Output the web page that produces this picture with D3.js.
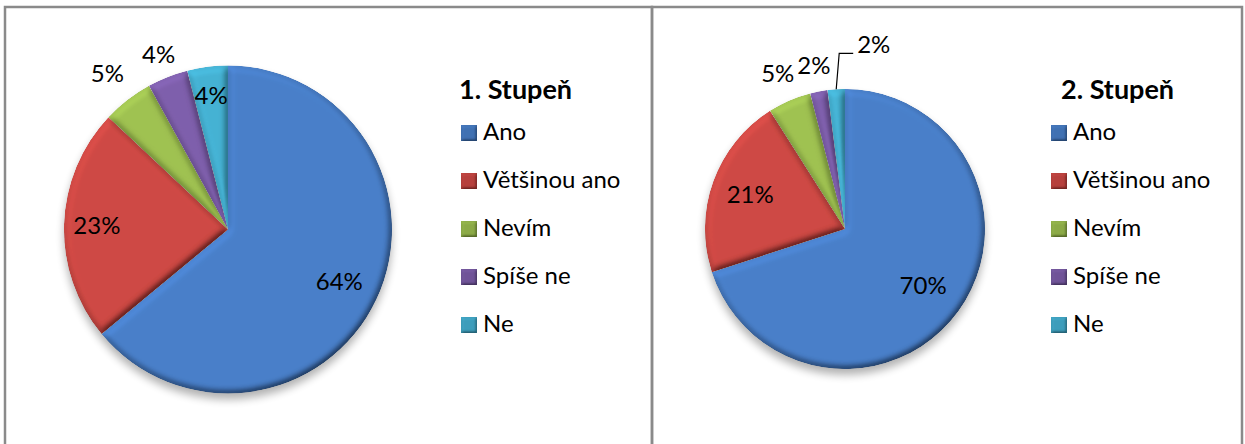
<!DOCTYPE html>
<html lang="cs">
<head>
<meta charset="UTF-8">
<title>Stupeň – koláčové grafy</title>
<script src="https://d3js.org/d3.v7.min.js"></script>
<style>
    body { margin: 0; background: #fff; }
    svg { display: block; }
    .lbl { font-family: Lato, "Noto Sans", sans-serif; font-size: 24px; fill: #000; }
    .leg { font-family: Lato, "Noto Sans", sans-serif; font-size: 24px; fill: #000; }
    .ttl { font-family: Lato, "Noto Sans", sans-serif; font-size: 27px; font-weight: bold; fill: #000; }
</style>
</head>
<body>
<script>
    // data
    const categories = ["Ano", "Většinou ano", "Nevím", "Spíše ne", "Ne"];
    const values1 = [64, 23, 5, 4, 4];
    const values2 = [70, 21, 5, 2, 2];
    const titles = ["1. Stupeň", "2. Stupeň"];
    const colors = ["#4a81cc", "#d14a45", "#a1c452", "#8060ae", "#46b4d6"];

    const width = 1245, height = 444;

    // layout of both panels (label radius factors are relative to pie radius)
    const panels = [
        { x: 5, w: 647, cx: 228, cy: 229.5, r: 164, values: values1, title: titles[0],
          titleX: 459, legX: 461, labelR: [0.75, 0.8, 1.2, 1.15, 0.82], leader: -1 },
        { x: 652, w: 590, cx: 845, cy: 229, r: 140, values: values2, title: titles[1],
          titleX: 1061, legX: 1051, labelR: [0.69, 0.72, 1.21, 1.19, 1.2], leader: 4 }
    ];

    const svg = d3.select("body").append("svg")
        .attr("width", width)
        .attr("height", height);

    const defs = svg.append("defs");

    // bevel like the office "soft round" look
    function bevel(id, blur, scale) {
        const f = defs.append("filter").attr("id", id)
            .attr("x", "-10%").attr("y", "-10%").attr("width", "120%").attr("height", "120%");
        f.append("feGaussianBlur").attr("in", "SourceAlpha").attr("stdDeviation", blur).attr("result", "b");
        f.append("feDiffuseLighting").attr("in", "b").attr("surfaceScale", scale)
            .attr("diffuseConstant", 1).attr("lighting-color", "#fff").attr("result", "d")
            .append("feDistantLight").attr("azimuth", 235).attr("elevation", 60);
        f.append("feComposite").attr("in", "SourceGraphic").attr("in2", "d")
            .attr("operator", "arithmetic").attr("k1", 1.12).attr("k2", 0).attr("k3", 0).attr("k4", 0)
            .attr("result", "lit");
        f.append("feComposite").attr("in", "lit").attr("in2", "SourceAlpha").attr("operator", "in");
    }
    bevel("bevel", 3.5, 5);
    bevel("bevelSmall", 1.5, 2);

    const shadow = defs.append("filter").attr("id", "shadow")
        .attr("x", "-20%").attr("y", "-20%").attr("width", "140%").attr("height", "140%");
    shadow.append("feGaussianBlur").attr("stdDeviation", 4);

    const pie = d3.pie().sort(null).value(d => d);

    panels.forEach(p => {
        // panel frame
        svg.append("rect")
            .attr("x", p.x).attr("y", 7)
            .attr("width", p.w).attr("height", 470)
            .attr("fill", "none")
            .attr("stroke", "#8a8a8a")
            .attr("stroke-width", 2.5);

        const g = svg.append("g").attr("transform", `translate(${p.cx},${p.cy})`);
        const arc = d3.arc().innerRadius(0).outerRadius(p.r);
        const arcs = pie(p.values);

        g.append("circle")
            .attr("cy", 6).attr("r", p.r)
            .attr("fill", "#000").attr("opacity", 0.3)
            .attr("filter", "url(#shadow)");

        g.selectAll("path.slice")
            .data(arcs)
            .join("path")
            .attr("class", "slice")
            .attr("d", arc)
            .attr("fill", (d, i) => colors[i])
            .attr("filter", "url(#bevel)");

        // labels
        arcs.forEach((d, i) => {
            const pct = d3.format(".0f")(d.data) + "%";
            if (i === p.leader) {
                const mid = (d.startAngle + d.endAngle) / 2;
                const sx = Math.sin(mid) * p.r, sy = -Math.cos(mid) * p.r;
                const ey = -1.255 * p.r;
                const ex = sx + 3;
                g.append("path")
                    .attr("d", d3.line()([[sx, sy], [ex, ey], [ex + 14, ey]]))
                    .attr("fill", "none").attr("stroke", "#000").attr("stroke-width", 1.2);
                g.append("text").attr("class", "lbl")
                    .attr("x", ex + 18).attr("y", ey - 9)
                    .attr("dy", "0.35em")
                    .text(pct);
            } else {
                const k = p.labelR[i] * p.r;
                const c = d3.arc().innerRadius(k).outerRadius(k).centroid(d);
                g.append("text").attr("class", "lbl")
                    .attr("x", c[0]).attr("y", c[1])
                    .attr("text-anchor", "middle")
                    .attr("dy", "0.35em")
                    .text(pct);
            }
        });

        // legend
        svg.append("text").attr("class", "ttl")
            .attr("x", p.titleX).attr("y", 99)
            .text(p.title);

        const leg = svg.append("g");
        const rows = leg.selectAll("g")
            .data(categories)
            .join("g")
            .attr("transform", (d, i) => `translate(${p.legX},${140 + i * 48})`);
        rows.append("rect")
            .attr("x", 0).attr("y", -15)
            .attr("width", 16).attr("height", 16)
            .attr("fill", (d, i) => d3.color(colors[i]).darker(0.35))
            .attr("filter", "url(#bevelSmall)");
        rows.append("text").attr("class", "leg")
            .attr("x", 22).attr("y", 0)
            .text(d => d);
    });
</script>
</body>
</html>
